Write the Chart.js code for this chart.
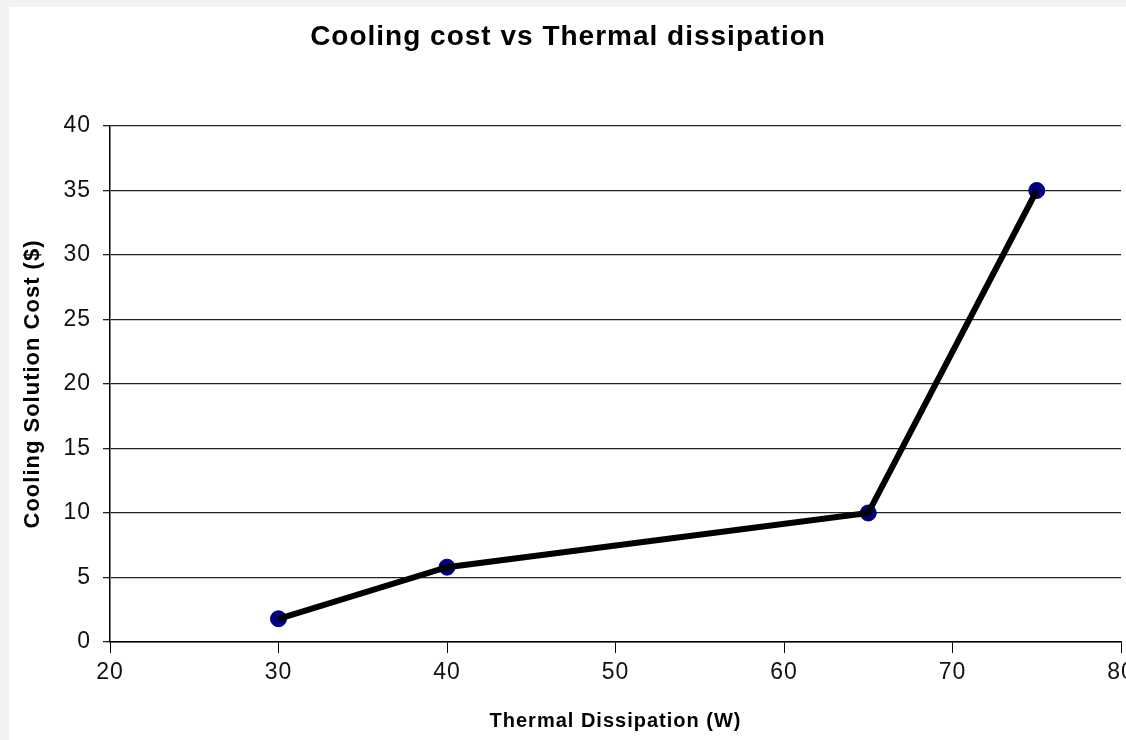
<!DOCTYPE html>
<html>
<head>
<meta charset="utf-8">
<script src="https://cdn.jsdelivr.net/npm/chart.js@4/dist/chart.umd.min.js"></script>
<style>
    html, body { margin: 0; padding: 0; background: #f2f2f2; overflow: hidden; }
    #wrap { position: absolute; left: 9px; top: 7px; width: 1121px; height: 733px; background: #fff; }
</style>
</head>
<body>
<div id="wrap"><canvas id="grafico"></canvas></div>
<script>
// dados
const dissipacao = [30, 40, 65, 75];
const custo = [1.8, 5.8, 10, 35];
const ticksX = [20, 30, 40, 50, 60, 70, 80];
const ticksY = [0, 5, 10, 15, 20, 25, 30, 35, 40];

const pontos = dissipacao.map((x, i) => ({ x: x, y: custo[i] }));
const fonte = "'Liberation Sans', Arial, sans-serif";

// texto um pouco espacado como no original
const espacamento = {
    id: 'espacamento',
    beforeDraw(chart) { chart.ctx.letterSpacing = '1px'; }
};

document.addEventListener("DOMContentLoaded", function () {
    const ctx = document.getElementById("grafico");
    new Chart(ctx, {
        type: 'scatter',
        data: {
            datasets: [
                {
                    // linha por cima dos marcadores
                    data: pontos,
                    showLine: true,
                    borderColor: '#000',
                    borderWidth: 6,
                    pointRadius: 0,
                    tension: 0,
                    order: 1
                },
                {
                    data: pontos,
                    showLine: false,
                    backgroundColor: '#000080',
                    borderColor: '#000080',
                    pointRadius: 8,
                    order: 2
                }
            ]
        },
        plugins: [espacamento],
        options: {
            responsive: true,
            maintainAspectRatio: false,
            animation: false,
            layout: { padding: { left: 0, right: 3, top: 0, bottom: 0 } },
            plugins: {
                legend: { display: false },
                tooltip: { enabled: false },
                title: {
                    display: true,
                    text: 'Cooling cost vs Thermal dissipation',
                    color: '#000',
                    font: { family: fonte, size: 28, weight: 'bold' },
                    padding: { top: 13, bottom: 72.4 }
                }
            },
            scales: {
                x: {
                    type: 'linear',
                    min: 20,
                    max: 80,
                    afterBuildTicks: (s) => { s.ticks = ticksX.map(v => ({ value: v })); },
                    afterFit: (s) => { s.height = 98; s.paddingRight = 0; s.paddingLeft = 0; },
                    grid: { drawOnChartArea: false, drawTicks: true, tickLength: 11, color: '#000' },
                    border: { display: true, color: '#000', width: 1.5 },
                    ticks: { color: '#111', padding: 6, maxRotation: 0, font: { family: fonte, size: 23 } },
                    title: {
                        display: true,
                        text: 'Thermal Dissipation (W)',
                        color: '#000',
                        font: { family: fonte, size: 20, weight: 'bold' },
                        padding: { top: 0, bottom: 7 }
                    }
                },
                y: {
                    min: 0,
                    max: 40,
                    afterBuildTicks: (s) => { s.ticks = ticksY.map(v => ({ value: v })); },
                    afterFit: (s) => { s.width = 101; },
                    grid: { color: '#222', lineWidth: 1.3, tickLength: 7 },
                    border: { display: true, color: '#000', width: 1.5 },
                    ticks: { color: '#111', padding: 12, font: { family: fonte, size: 23 } },
                    title: {
                        display: true,
                        text: 'Cooling Solution Cost ($)',
                        color: '#000',
                        font: { family: fonte, size: 22, weight: 'bold' },
                        padding: { top: 11, bottom: 0 }
                    }
                }
            }
        }
    });
});
</script>
</body>
</html>
